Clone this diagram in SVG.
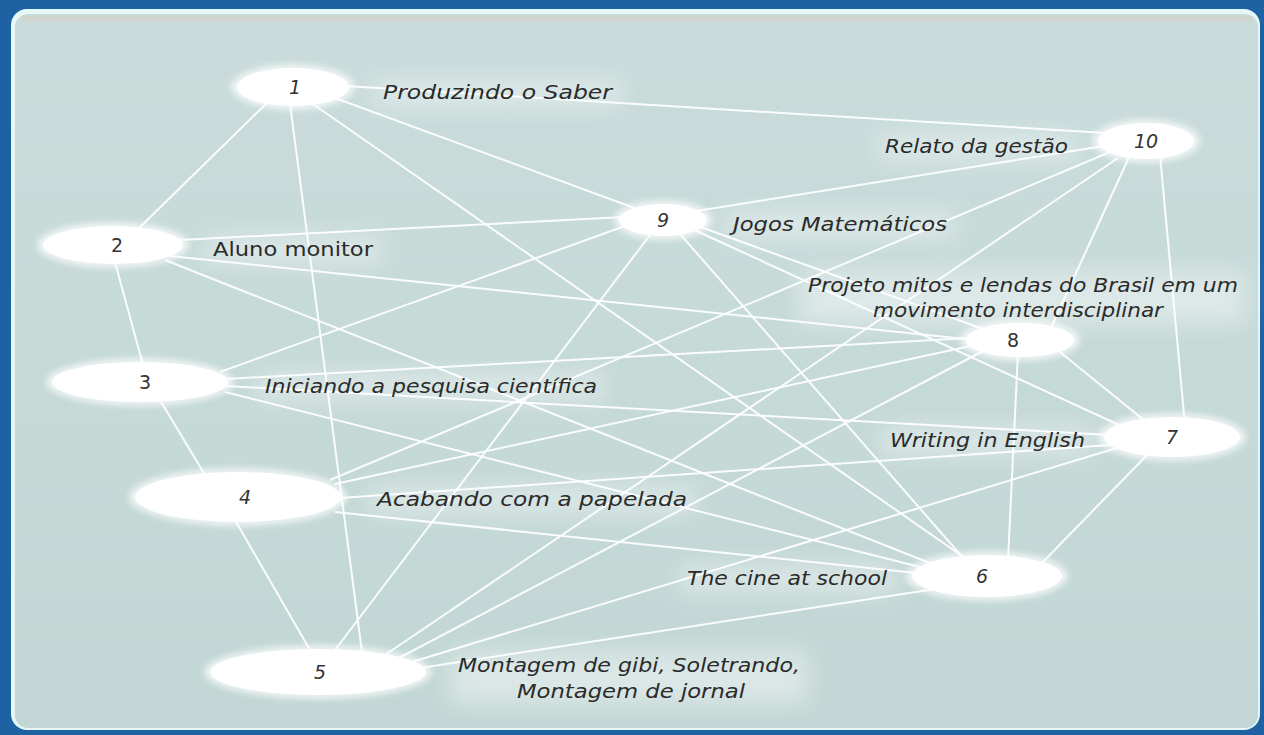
<svg xmlns="http://www.w3.org/2000/svg" width="1264" height="735" viewBox="0 0 1264 735">
<defs>
<filter id="soft" x="-30%" y="-50%" width="160%" height="200%"><feGaussianBlur stdDeviation="3"/></filter>
<filter id="glow" x="-30%" y="-150%" width="160%" height="400%"><feGaussianBlur stdDeviation="11"/></filter>
<linearGradient id="bg" x1="0" y1="0" x2="0" y2="1">
<stop offset="0" stop-color="#c9dcdb"/>
<stop offset="1" stop-color="#c2d7d5"/>
</linearGradient>
</defs>
<style>
.edge{stroke:#ffffff;stroke-width:2;stroke-opacity:0.92;fill:none}
.node{fill:#ffffff}
.halo{fill:#ffffff;opacity:0.7}
.lblglow{fill:#ffffff;opacity:0.4}
.num{font-family:"DejaVu Sans",sans-serif;font-size:19px;fill:#333;text-anchor:middle}
.it{font-style:italic}
.lbl{font-family:"DejaVu Sans",sans-serif;font-size:20px;fill:#2b2b2b;font-style:italic}
</style>
<rect x="0" y="0" width="1264" height="735" fill="#1f62a3"/>
<rect x="11" y="9" width="1249" height="721" rx="16" fill="#e6f7f7"/>
<rect x="15" y="14" width="1243" height="714" rx="13" fill="url(#bg)"/>
<rect x="22" y="16" width="1230" height="6" fill="#cfd6d0"/>
<g id="label-glows">
<rect class="lblglow" x="375" y="80" width="245" height="26" filter="url(#glow)"/>
<rect class="lblglow" x="878" y="134" width="198" height="26" filter="url(#glow)"/>
<rect class="lblglow" x="726" y="212" width="228" height="26" filter="url(#glow)"/>
<rect class="lblglow" x="205" y="237" width="176" height="26" filter="url(#glow)"/>
<rect class="lblglow" x="800" y="272" width="446" height="51" filter="url(#glow)"/>
<rect class="lblglow" x="258" y="374" width="346" height="26" filter="url(#glow)"/>
<rect class="lblglow" x="882" y="428" width="210" height="26" filter="url(#glow)"/>
<rect class="lblglow" x="370" y="487" width="325" height="26" filter="url(#glow)"/>
<rect class="lblglow" x="680" y="566" width="215" height="26" filter="url(#glow)"/>
<rect class="lblglow" x="450" y="652" width="358" height="52" filter="url(#glow)"/>
</g>
<g id="connectors">
<line class="edge" x1="270" y1="100" x2="135" y2="232"/>
<line class="edge" x1="290" y1="104" x2="362" y2="652"/>
<line class="edge" x1="310" y1="102" x2="975" y2="565"/>
<line class="edge" x1="335" y1="98" x2="640" y2="210"/>
<line class="edge" x1="345" y1="86" x2="1105" y2="133"/>
<line class="edge" x1="115" y1="262" x2="143" y2="365"/>
<line class="edge" x1="180" y1="240" x2="625" y2="217"/>
<line class="edge" x1="170" y1="256" x2="975" y2="340"/>
<line class="edge" x1="165" y1="260" x2="960" y2="575"/>
<line class="edge" x1="160" y1="400" x2="205" y2="475"/>
<line class="edge" x1="220" y1="372" x2="625" y2="226"/>
<line class="edge" x1="225" y1="379" x2="970" y2="338"/>
<line class="edge" x1="225" y1="386" x2="1110" y2="435"/>
<line class="edge" x1="225" y1="392" x2="940" y2="572"/>
<line class="edge" x1="235" y1="520" x2="310" y2="650"/>
<line class="edge" x1="335" y1="484" x2="975" y2="345"/>
<line class="edge" x1="330" y1="480" x2="1110" y2="152"/>
<line class="edge" x1="335" y1="512" x2="935" y2="575"/>
<line class="edge" x1="340" y1="498" x2="1110" y2="445"/>
<line class="edge" x1="335" y1="650" x2="650" y2="235"/>
<line class="edge" x1="385" y1="655" x2="1118" y2="158"/>
<line class="edge" x1="395" y1="660" x2="985" y2="350"/>
<line class="edge" x1="405" y1="664" x2="1120" y2="447"/>
<line class="edge" x1="420" y1="668" x2="955" y2="586"/>
<line class="edge" x1="680" y1="234" x2="965" y2="560"/>
<line class="edge" x1="1018" y1="352" x2="1008" y2="560"/>
<line class="edge" x1="1040" y1="565" x2="1150" y2="452"/>
<line class="edge" x1="1055" y1="348" x2="1150" y2="425"/>
<line class="edge" x1="690" y1="228" x2="1130" y2="430"/>
<line class="edge" x1="695" y1="225" x2="1000" y2="335"/>
<line class="edge" x1="1130" y1="155" x2="1050" y2="330"/>
<line class="edge" x1="1160" y1="155" x2="1185" y2="425"/>
<line class="edge" x1="690" y1="212" x2="1110" y2="145"/>
</g>
<g id="node-1"><ellipse class="halo" cx="293" cy="87" rx="62" ry="23" filter="url(#soft)"/><ellipse class="node" cx="293" cy="87" rx="56" ry="19"/><text class="num it" x="295" y="94">1</text></g>
<g id="node-2"><ellipse class="halo" cx="113" cy="245" rx="76" ry="23" filter="url(#soft)"/><ellipse class="node" cx="113" cy="245" rx="70" ry="19"/><text class="num" x="117" y="252">2</text></g>
<g id="node-3"><ellipse class="halo" cx="140" cy="382" rx="94" ry="24" filter="url(#soft)"/><ellipse class="node" cx="140" cy="382" rx="88" ry="20"/><text class="num" x="145" y="389">3</text></g>
<g id="node-4"><ellipse class="halo" cx="238" cy="497" rx="109" ry="29" filter="url(#soft)"/><ellipse class="node" cx="238" cy="497" rx="103" ry="25"/><text class="num it" x="245" y="504">4</text></g>
<g id="node-5"><ellipse class="halo" cx="318" cy="672" rx="114" ry="27" filter="url(#soft)"/><ellipse class="node" cx="318" cy="672" rx="108" ry="23"/><text class="num it" x="320" y="679">5</text></g>
<g id="node-6"><ellipse class="halo" cx="987" cy="576" rx="81" ry="25" filter="url(#soft)"/><ellipse class="node" cx="987" cy="576" rx="75" ry="21"/><text class="num it" x="982" y="583">6</text></g>
<g id="node-7"><ellipse class="halo" cx="1172" cy="437" rx="74" ry="24" filter="url(#soft)"/><ellipse class="node" cx="1172" cy="437" rx="68" ry="20"/><text class="num it" x="1172" y="444">7</text></g>
<g id="node-8"><ellipse class="halo" cx="1020" cy="340" rx="60" ry="21" filter="url(#soft)"/><ellipse class="node" cx="1020" cy="340" rx="54" ry="17"/><text class="num" x="1013" y="347">8</text></g>
<g id="node-9"><ellipse class="halo" cx="663" cy="220" rx="49" ry="20" filter="url(#soft)"/><ellipse class="node" cx="663" cy="220" rx="44" ry="16"/><text class="num it" x="663" y="227">9</text></g>
<g id="node-10"><ellipse class="halo" cx="1146" cy="141" rx="54" ry="22" filter="url(#soft)"/><ellipse class="node" cx="1146" cy="141" rx="48" ry="18"/><text class="num it" x="1146" y="148">10</text></g>
<g id="labels">
<text class="lbl" x="383" y="99" textLength="229" lengthAdjust="spacingAndGlyphs">Produzindo o Saber</text>
<text class="lbl" x="885" y="153" textLength="183" lengthAdjust="spacingAndGlyphs">Relato da gestão</text>
<text class="lbl" x="733" y="231" textLength="214" lengthAdjust="spacingAndGlyphs">Jogos Matemáticos</text>
<text class="lbl" x="213" y="256" textLength="160" lengthAdjust="spacingAndGlyphs" style="font-style:normal">Aluno monitor</text>
<text class="lbl" x="808" y="292" textLength="430" lengthAdjust="spacingAndGlyphs">Projeto mitos e lendas do Brasil em um</text>
<text class="lbl" x="873" y="317" textLength="290" lengthAdjust="spacingAndGlyphs">movimento interdisciplinar</text>
<text class="lbl" x="265" y="393" textLength="332" lengthAdjust="spacingAndGlyphs">Iniciando a pesquisa científica</text>
<text class="lbl" x="890" y="447" textLength="195" lengthAdjust="spacingAndGlyphs">Writing in English</text>
<text class="lbl" x="377" y="506" textLength="310" lengthAdjust="spacingAndGlyphs">Acabando com a papelada</text>
<text class="lbl" x="687" y="585" textLength="200" lengthAdjust="spacingAndGlyphs">The cine at school</text>
<text class="lbl" x="458" y="672" textLength="342" lengthAdjust="spacingAndGlyphs">Montagem de gibi, Soletrando,</text>
<text class="lbl" x="517" y="698" textLength="228" lengthAdjust="spacingAndGlyphs">Montagem de jornal</text>
</g>
</svg>
